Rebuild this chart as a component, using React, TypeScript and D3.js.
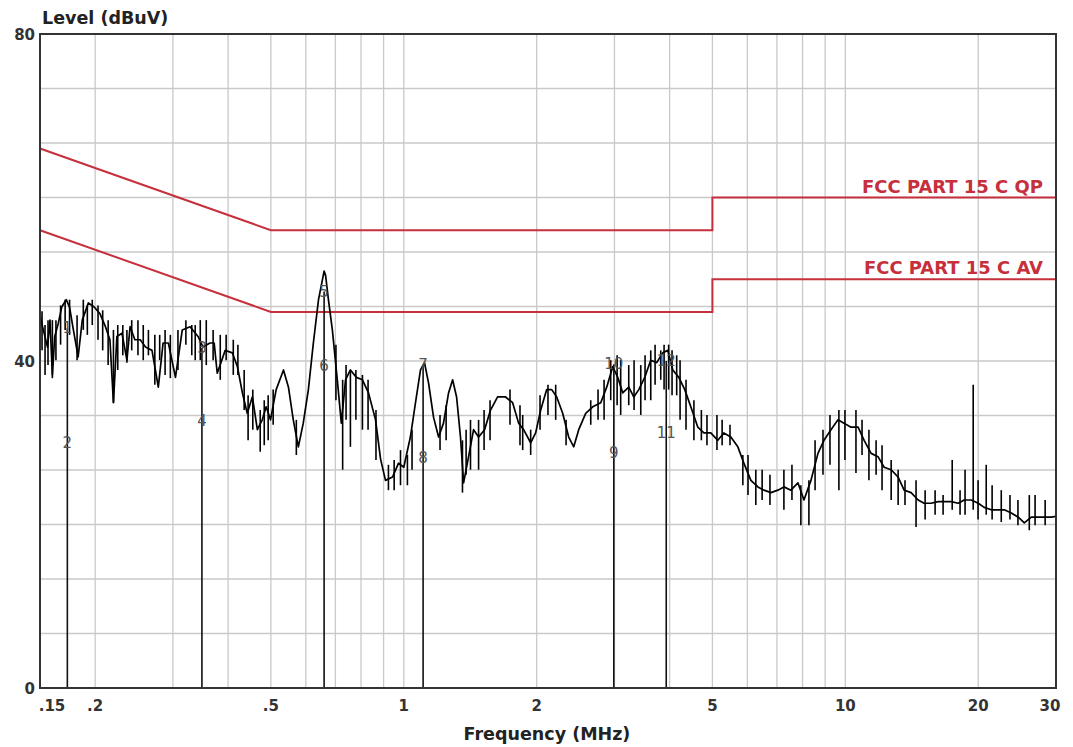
import React from "react";
import * as d3 from "d3";

const traceFreq = [
  0.150, 0.152, 0.156, 0.158, 0.160, 0.162, 0.165, 0.168, 0.172, 0.175, 0.178, 0.183, 0.187, 0.193, 0.199,
  0.205, 0.211, 0.216, 0.220, 0.224, 0.230, 0.236, 0.240, 0.246, 0.253, 0.260, 0.269, 0.278, 0.285, 0.293,
  0.304, 0.315, 0.328, 0.342, 0.351, 0.364, 0.372, 0.378, 0.394, 0.409, 0.420, 0.431, 0.442, 0.454, 0.466,
  0.478, 0.488, 0.499, 0.514, 0.534, 0.548, 0.562, 0.577, 0.592, 0.608, 0.624, 0.641, 0.654, 0.660, 0.665,
  0.675, 0.689, 0.707, 0.722, 0.738, 0.757, 0.781, 0.806, 0.832, 0.863, 0.886, 0.909, 0.943, 0.973, 1.000,
  1.035, 1.063, 1.091, 1.114, 1.138, 1.168, 1.199, 1.230, 1.263, 1.290, 1.317, 1.344, 1.366, 1.402, 1.439,
  1.477, 1.524, 1.572, 1.631, 1.700, 1.764, 1.820, 1.868, 1.938, 1.989, 2.042, 2.107, 2.163, 2.220, 2.290,
  2.363, 2.426, 2.490, 2.582, 2.679, 2.793, 2.881, 2.973, 3.052, 3.132, 3.232, 3.318, 3.406, 3.513, 3.625,
  3.740, 3.859, 3.962, 4.066, 4.196, 4.329, 4.467, 4.634, 4.781, 4.958, 5.143, 5.306, 5.504, 5.709, 5.891,
  6.111, 6.339, 6.540, 6.784, 7.036, 7.259, 7.530, 7.810, 8.059, 8.359, 8.670, 8.946, 9.279, 9.624, 9.931,
  10.30, 10.69, 11.03, 11.44, 11.86, 12.24, 12.70, 13.17, 13.59, 14.09, 14.62, 15.08, 15.64, 16.23, 16.74,
  17.37, 18.02, 18.59, 19.28, 20.0, 20.63, 21.40, 22.20, 22.91, 23.76, 24.64, 25.43, 26.37, 27.35, 28.22,
  29.27, 30.0,
];
const traceLevel = [
  45.6, 44.2, 41.7, 45.0, 38.3, 43.0, 44.6, 46.6, 47.5, 46.6, 44.2, 40.5, 45.0, 47.1, 46.6,
  45.8, 44.2, 42.6, 34.9, 43.0, 43.4, 40.1, 44.2, 42.6, 42.6, 41.7, 41.3, 36.8, 42.2, 42.2,
  38.0, 43.8, 44.2, 43.0, 41.7, 42.2, 42.2, 38.5, 41.3, 41.0, 39.3, 36.1, 33.6, 35.6, 31.6,
  32.8, 34.4, 32.8, 36.5, 38.9, 36.8, 32.8, 29.5, 32.4, 36.5, 42.2, 47.5, 49.9, 51.0, 50.5,
  47.5, 43.8, 37.7, 32.4, 37.7, 38.9, 38.0, 37.7, 36.1, 32.8, 28.0, 25.4, 25.8, 27.5, 27.0,
  30.7, 34.9, 38.9, 39.8, 37.3, 33.1, 30.7, 32.4, 36.1, 37.7, 35.6, 30.7, 25.1, 28.3, 31.6,
  30.7, 31.6, 34.0, 35.6, 35.6, 34.9, 32.4, 31.6, 30.0, 31.2, 34.0, 36.5, 36.5, 35.6, 33.6,
  30.7, 29.5, 31.6, 33.6, 34.4, 34.9, 36.8, 39.3, 38.0, 36.1, 36.8, 35.6, 36.5, 38.0, 40.1,
  39.8, 41.0, 41.3, 38.9, 38.0, 36.5, 34.4, 31.9, 31.2, 31.2, 30.3, 31.2, 30.7, 29.5, 27.5,
  25.4, 24.6, 24.2, 23.9, 24.2, 24.6, 24.2, 25.1, 23.0, 25.4, 28.7, 30.3, 31.6, 32.8, 32.4,
  31.9, 31.9, 30.3, 28.7, 28.3, 27.0, 26.7, 25.8, 24.2, 23.9, 23.0, 22.6, 22.6, 22.8, 22.8,
  22.8, 22.6, 23.0, 23.0, 22.6, 22.1, 21.8, 21.8, 21.8, 21.4, 20.9, 20.2, 20.9, 20.9, 20.9,
  20.9, 21.0,
];

// noise spikes: frequency, high level, low level
const spikeFreq = [
  0.154, 0.160, 0.167, 0.182, 0.188, 0.220, 0.236, 0.250, 0.273, 0.296, 0.308, 0.337, 0.357, 0.384, 0.411,
  0.444, 0.473, 0.493, 0.571, 0.727, 0.757, 0.806, 0.923, 0.983, 1.019, 1.358, 1.416, 1.477, 1.859, 1.938,
  2.208, 2.651, 2.942, 3.099, 3.232, 3.441, 3.625, 3.819, 3.98, 4.15, 4.54, 5.12, 5.86, 6.27, 7.259,
  7.93, 8.27, 9.67, 10.57, 11.31, 12.70, 14.46, 17.46, 19.48, 20.85, 22.55, 26.1,
  0.1516, 0.1564, 0.163, 0.171, 0.175, 0.192, 0.197, 0.203, 0.208, 0.214, 0.225, 0.231, 0.242, 0.257, 0.264,
  0.280, 0.288, 0.321, 0.331, 0.346, 0.370, 0.396, 0.421, 0.435, 0.455, 0.483, 0.506,
  0.702, 0.740, 0.779, 0.830, 0.865, 0.951, 1.044, 1.208, 1.247, 1.384, 1.520, 1.568, 1.740, 1.833, 2.035,
  2.121, 2.331, 2.754, 2.842, 3.042, 3.323, 3.519, 3.708, 3.886, 4.051, 4.224, 4.357,
  4.72, 4.86, 5.26, 5.48, 6.02, 6.48, 6.75, 7.57, 8.54, 8.90, 9.23, 9.98, 10.91, 11.74, 12.11,
  13.17, 13.65, 15.16, 15.97, 16.65, 18.19, 18.67, 19.98, 21.5, 23.6, 24.6, 26.9, 28.35,
];
const spikeHigh = [
  44.4, 45.0, 46.8, 45.6, 47.5, 43.8, 43.8, 45.0, 43.2, 43.2, 43.8, 44.4, 45.0, 43.2, 42.6,
  35.8, 34.0, 35.8, 32.8, 37.7, 38.9, 38.3, 27.3, 29.1, 28.5, 30.3, 32.8, 32.8, 33.4, 31.6,
  37.1, 35.2, 40.1, 40.1, 39.5, 39.5, 41.3, 41.3, 42.0, 40.7, 35.2, 33.4, 28.5, 26.7, 26.7,
  24.8, 25.4, 34.0, 34.0, 31.6, 27.9, 25.4, 27.9, 37.1, 27.3, 24.2, 23.6,
  46.1, 45.0, 45.0, 47.5, 47.5, 46.8, 47.5, 46.8, 46.2, 45.0, 44.4, 44.4, 45.0, 44.4, 43.8,
  43.2, 43.8, 45.0, 44.4, 45.0, 43.8, 43.2, 42.0, 38.9, 36.5, 35.2, 36.5,
  42.0, 39.5, 38.9, 37.7, 34.0, 27.9, 31.6, 33.4, 34.6, 31.6, 34.0, 35.2, 36.5, 34.6, 35.8,
  37.1, 32.8, 36.5, 37.7, 40.7, 40.1, 40.7, 42.0, 42.0, 41.3, 40.1, 37.7,
  34.0, 33.4, 32.8, 32.2, 28.5, 26.7, 26.1, 27.3, 30.3, 31.6, 33.4, 34.0, 32.8, 30.3, 29.7,
  26.7, 25.4, 24.2, 24.2, 23.6, 24.2, 26.7, 25.4, 24.8, 23.6, 23.0, 23.6, 23.0,
];
const spikeLow = [
  38.3, 37.9, 42.0, 40.1, 43.8, 34.9, 39.8, 40.7, 37.1, 37.9, 38.9, 40.1, 39.5, 37.7, 38.3,
  30.3, 28.9, 30.3, 28.5, 26.7, 29.5, 31.6, 24.2, 24.8, 24.8, 23.9, 26.7, 26.7, 29.1, 28.5,
  32.8, 32.2, 35.2, 33.4, 34.6, 33.4, 35.2, 37.7, 36.5, 35.8, 30.3, 29.1, 24.8, 22.4, 21.8,
  19.9, 19.9, 24.2, 26.3, 25.4, 23.0, 19.7, 21.8, 21.8, 21.2, 20.3, 19.3,
  41.3, 39.5, 40.1, 43.8, 43.2, 43.2, 44.4, 42.6, 41.3, 39.5, 38.9, 40.7, 41.3, 40.1, 40.7,
  40.1, 38.3, 42.0, 40.7, 40.1, 40.1, 40.1, 38.3, 34.0, 31.6, 29.7, 32.2,
  35.2, 32.8, 32.8, 31.6, 27.9, 24.2, 26.7, 29.1, 30.3, 26.1, 29.1, 30.3, 32.2, 29.7, 31.6,
  33.4, 29.7, 32.8, 32.8, 34.6, 34.0, 35.2, 37.1, 36.5, 35.8, 32.8, 31.6,
  30.3, 29.7, 29.7, 29.7, 23.6, 23.0, 22.4, 23.0, 24.2, 26.1, 27.3, 27.9, 28.5, 26.1, 24.2,
  22.4, 22.4, 20.6, 21.2, 21.2, 21.2, 21.2, 20.6, 20.6, 20.6, 19.9, 19.9, 19.9,
];

// limit lines
const qpFreq = [0.15, 0.5, 5, 5, 30];
const qpLevel = [66, 56, 56, 60, 60];
const avFreq = [0.15, 0.5, 5, 5, 30];
const avLevel = [56, 46, 46, 50, 50];

// markers
const markerFreq = [0.173, 0.349, 0.660, 1.106, 2.99, 3.93];
const markerTop = [44.0, 41.6, 48.5, 39.5, 39.6, 40.0];
const markerLow = [30.1, 32.8, 39.5, 28.3, 28.9, 31.3];
const markerTopLabel = ["1", "3", "5", "7", "10", "12"];
const markerLowLabel = ["2", "4", "6", "8", "9", "11"];

const xTicks = [0.15, 0.2, 0.5, 1, 2, 5, 10, 20, 30];
const xTickLabels = [".15", ".2", ".5", "1", "2", "5", "10", "20", "30"];
const xGrid = [0.2, 0.3, 0.4, 0.5, 0.6, 0.7, 0.8, 0.9, 1, 2, 3, 4, 5, 6, 7, 8, 9, 10, 20];
const yTicks = [0, 40, 80];
const yGridCount = 12;

const W = 1073;
const H = 747;
const L = 40;
const R = 1056;
const T = 34;
const B = 688;

export default function App() {
  const x = d3.scaleLog().domain([0.15, 30]).range([L, R]);
  const y = d3.scaleLinear().domain([0, 80]).range([B, T]);
  const yGrid = d3.range(1, yGridCount).map((i) => (80 * i) / yGridCount);

  const tracePts: [number, number][] = traceFreq.map((f, i) => [f, traceLevel[i]]);
  const line = d3
    .line<[number, number]>()
    .x((d) => x(d[0]))
    .y((d) => y(d[1]));
  const qpPts: [number, number][] = qpFreq.map((f, i) => [f, qpLevel[i]]);
  const avPts: [number, number][] = avFreq.map((f, i) => [f, avLevel[i]]);

  const font = "'DejaVu Sans', Verdana, sans-serif";
  const red = "#c62f3c";

  const xLabelOffset = (i: number) => (i === 0 ? 12 : i === xTicks.length - 1 ? -6 : 0);

  return (
    <svg
      width={W}
      height={H}
      style={{ position: "absolute", left: 0, top: 0, background: "#fff" }}
      fontFamily={font}
    >
      <rect x={0} y={0} width={W} height={H} fill="#fff" />
      {/* grid */}
      {xGrid.map((g) => (
        <line key={"xg" + g} x1={x(g)} x2={x(g)} y1={T} y2={B} stroke="#c9c9c9" strokeWidth={1.3} />
      ))}
      {yGrid.map((g) => (
        <line key={"yg" + g} x1={L} x2={R} y1={y(g)} y2={y(g)} stroke="#c9c9c9" strokeWidth={1.3} />
      ))}
      {/* limit lines */}
      <path d={line(qpPts) || ""} fill="none" stroke={red} strokeWidth={2} />
      <path d={line(avPts) || ""} fill="none" stroke={red} strokeWidth={2} />
      <text
        x={1043}
        y={y(60) - 5}
        textAnchor="end"
        fill={red}
        fontWeight="bold"
        fontSize={17}
        textLength={181}
        lengthAdjust="spacingAndGlyphs"
      >
        FCC PART 15 C QP
      </text>
      <text
        x={1043}
        y={y(50) - 5}
        textAnchor="end"
        fill={red}
        fontWeight="bold"
        fontSize={17}
        textLength={179}
        lengthAdjust="spacingAndGlyphs"
      >
        FCC PART 15 C AV
      </text>
      {/* trace */}
      {spikeFreq.map((f, i) => (
        <line
          key={"sp" + i}
          x1={x(f)}
          x2={x(f)}
          y1={y(spikeHigh[i])}
          y2={y(spikeLow[i])}
          stroke="#000"
          strokeWidth={1.6}
        />
      ))}
      <path d={line(tracePts) || ""} fill="none" stroke="#000" strokeWidth={1.7} strokeLinejoin="round" />
      {/* markers */}
      {markerFreq.map((f, i) => (
        <g key={"m" + i}>
          <line x1={x(f)} x2={x(f)} y1={B} y2={y(markerTop[i])} stroke="#111" strokeWidth={1.6} />
          <text x={x(f)} y={y(markerTop[i]) + 5} textAnchor="middle" fill="#555" fontSize={15}>
            {markerTopLabel[i]}
          </text>
          <text x={x(f)} y={y(markerLow[i]) + 6} textAnchor="middle" fill="#555" fontSize={15}>
            {markerLowLabel[i]}
          </text>
        </g>
      ))}
      {/* frame */}
      <rect x={L} y={T} width={R - L} height={B - T} fill="none" stroke="#333" strokeWidth={2} />
      {/* axes labels */}
      {xTicks.map((t, i) => (
        <text
          key={"xt" + t}
          x={x(t) + xLabelOffset(i)}
          y={711}
          textAnchor="middle"
          fontWeight="bold"
          fontSize={15}
          fill="#333"
        >
          {xTickLabels[i]}
        </text>
      ))}
      {yTicks.map((t) => (
        <text
          key={"yt" + t}
          x={35}
          y={y(t) + 6}
          textAnchor="end"
          fontWeight="bold"
          fontSize={15}
          fill="#333"
        >
          {t}
        </text>
      ))}
      <text x={42} y={24} fontWeight="bold" fontSize={17.5} fill="#222">
        Level (dBuV)
      </text>
      <text x={547} y={740} textAnchor="middle" fontWeight="bold" fontSize={17.5} fill="#222">
        Frequency (MHz)
      </text>
    </svg>
  );
}
